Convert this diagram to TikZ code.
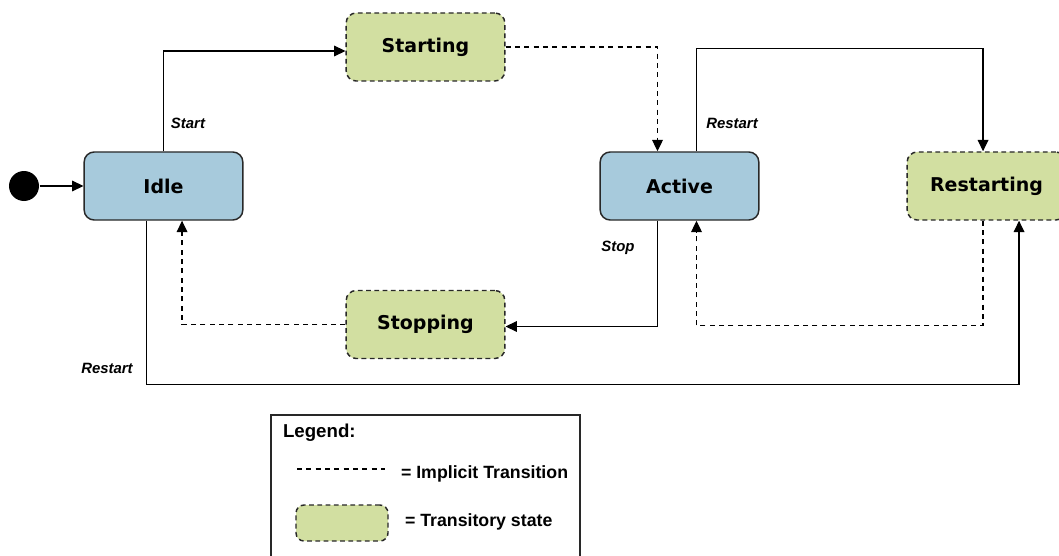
\documentclass[tikz,border=0pt]{standalone}
\usepackage{fontspec}
\setmainfont{DejaVu Sans}
\newfontfamily\arialfont{Liberation Sans}
\usepackage{tikz}
\usetikzlibrary{arrows.meta,shapes.geometric}
\definecolor{steadyblue}{RGB}{167, 202, 220}
\definecolor{transgreen}{RGB}{210, 223, 161}
\definecolor{edgegray}{RGB}{40, 40, 40}

\tikzset{
    state/.style={draw=edgegray, line width=1.1pt, rounded corners=7.5pt,
        minimum width=119pt, minimum height=51pt, font=\fontsize{14.25}{16}\selectfont\bfseries},
    steady/.style={state, fill=steadyblue},
    transitory/.style={state, fill=transgreen, dash pattern=on 3.6pt off 2.6pt},
    implicit/.style={dash pattern=on 3.8pt off 3.2pt},
    evlabel/.style={font=\arialfont\fontsize{11.2}{13}\selectfont\bfseries\itshape},
    legtext/.style={font=\arialfont\fontsize{13.3}{15}\selectfont\bfseries, anchor=west}
}

\begin{document}
\begin{tikzpicture}[x=0.75pt, y=-0.75pt, >={Triangle[length=8.5pt,width=8pt]}, line width=0.9pt]
    \useasboundingbox (0,0) rectangle (1059,556);
    \clip (0,0) rectangle (1059,556);

    % States
    \node[circle, fill=black, minimum size=22.5pt, inner sep=0pt] (init) at (24,186) {};
    \node[steady] (idle) at (163.5,186) {Idle};
    \node[transitory] (starting) at (425.5,47) {Starting};
    \node[steady] (active) at (679.5,186) {Active};
    \node[transitory] (restarting) at (986.5,186) {Restarting};
    \node[transitory] (stopping) at (425.5,324.5) {Stopping};

    % Explicit transitions
    \draw[->] (init) -- (idle.west);
    \draw[->] (idle.north) |- ([yshift=-3pt]starting.west);
    \draw[->] ([xshift=12.75pt]active.north) -- ++(0,-103) -| ([xshift=-2.6pt]restarting.north);
    \draw[->] ([xshift=-16.5pt]active.south) |- ([yshift=-1.5pt]stopping.east);
    \draw[->] ([xshift=-13pt]idle.south) -- ++(0,164) -| ([xshift=24.4pt]restarting.south);

    % Implicit transitions
    \draw[->, implicit] (starting.east) -| ([xshift=-16.5pt]active.north);
    \draw[->, implicit] (stopping.west) -| ([xshift=13.9pt]idle.south);
    \draw[->, implicit] ([xshift=-2.6pt]restarting.south) -- ++(0,105) -| ([xshift=12.75pt]active.south);

    % Event labels
    \node[evlabel] (lstart) at (188,123) {Start};
    \node[evlabel] (lrestarta) at (732,123) {Restart};
    \node[evlabel] (lstop) at (618,248) {Stop};
    \node[evlabel] (lrestarti) at (107,368) {Restart};

    % Legend
    \draw[edgegray, line width=1pt] (271,415) rectangle (580,600);
    \node[legtext, font=\arialfont\fontsize{14}{16}\selectfont\bfseries] (legtitle) at (278,433) {Legend:};
    \coordinate (legA) at (297,469);
    \coordinate (legB) at (385,469);
    \draw[implicit, line width=0.8pt] (legA) -- (legB);
    \node[legtext] (legimpl) at (396,474) {= Implicit Transition};
    \node[transitory, minimum width=69pt, minimum height=27pt, rounded corners=6pt] (legbox) at (342,523) {};
    \node[legtext] (legtrans) at (400,522) {= Transitory state};
\end{tikzpicture}
\end{document}
